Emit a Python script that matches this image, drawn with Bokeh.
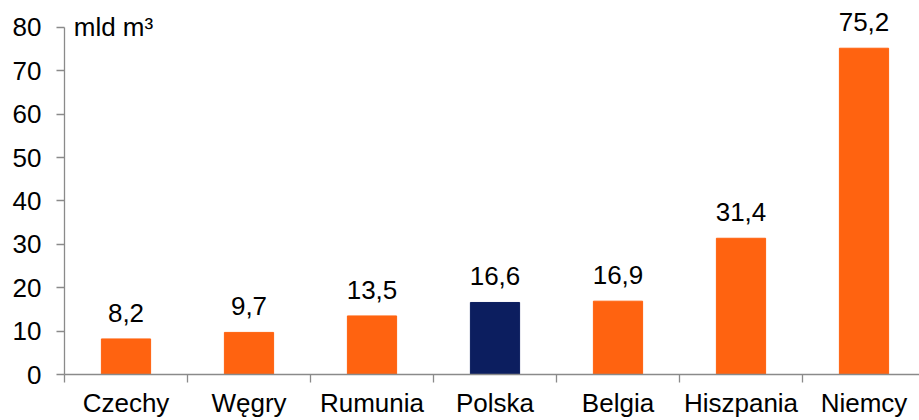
from bokeh.plotting import figure
from bokeh.models import ColumnDataSource, LabelSet, Label, FixedTicker, Range1d
from bokeh.core.properties import value
from bokeh.embed import file_html
from bokeh.resources import INLINE

categories = ["Czechy", "Węgry", "Rumunia", "Polska", "Belgia", "Hiszpania", "Niemcy"]
values = [8.2, 9.7, 13.5, 16.6, 16.9, 31.4, 75.2]
value_labels = ["8,2", "9,7", "13,5", "16,6", "16,9", "31,4", "75,2"]
highlight = "Polska"
y_ticks = [0, 10, 20, 30, 40, 50, 60, 70, 80]
unit_label = "mld m³"

ORANGE = "#FF6310"
NAVY = "#0C1E5F"
AXIS_GRAY = "#8A8A8A"
FONT = "Liberation Sans"
FSIZE = "26px"

xs = [i + 0.5 for i in range(len(categories))]
colors = [NAVY if c == highlight else ORANGE for c in categories]
source = ColumnDataSource(dict(x=xs, top=values, color=colors, vlab=value_labels))

p = figure(width=919, height=420, output_backend="svg", toolbar_location=None,
           x_range=Range1d(0, 855 / 123), y_range=Range1d(0, 86.2),
           min_border_left=64, min_border_right=0, min_border_top=0, min_border_bottom=44)
p.outline_line_color = None
p.xgrid.grid_line_color = None
p.ygrid.grid_line_color = None
p.background_fill_color = "white"
p.border_fill_color = "white"

p.vbar(x="x", top="top", width=0.4, bottom=0, color="color", source=source)

# y axis
p.yaxis.ticker = FixedTicker(ticks=y_ticks)
p.yaxis.bounds = (0, 80)
p.yaxis.axis_line_color = AXIS_GRAY
p.yaxis.axis_line_width = 1.3
p.yaxis.major_tick_line_color = AXIS_GRAY
p.yaxis.major_tick_line_width = 1.3
p.yaxis.major_tick_out = 8
p.yaxis.major_tick_in = 0
p.yaxis.minor_tick_line_color = None
p.yaxis.major_label_standoff = 15
p.yaxis.major_label_text_font = FONT
p.yaxis.major_label_text_font_size = FSIZE
p.yaxis.major_label_text_color = "black"

# x axis: ticks between categories, names at centers
p.xaxis.ticker = FixedTicker(ticks=xs, minor_ticks=list(range(len(categories) + 1)))
p.xaxis.major_label_overrides = {x: c for x, c in zip(xs, categories)}
p.xaxis.axis_line_color = AXIS_GRAY
p.xaxis.axis_line_width = 1.3
p.xaxis.minor_tick_line_color = AXIS_GRAY
p.xaxis.minor_tick_line_width = 1.3
p.xaxis.minor_tick_out = 8
p.xaxis.minor_tick_in = 0
p.xaxis.major_tick_line_color = None
p.xaxis.major_tick_out = 0
p.xaxis.major_tick_in = 0
p.xaxis.major_label_standoff = 5
p.xaxis.major_label_text_font = FONT
p.xaxis.major_label_text_font_size = FSIZE
p.xaxis.major_label_text_color = "black"

vl = LabelSet(x="x", y="top", text="vlab", source=source, y_offset=17,
              text_align="center", text_baseline="alphabetic",
              text_font=value(FONT), text_font_size=value(FSIZE), text_color="black")
p.add_layout(vl)

ul = Label(x=0.075, y=80, text=unit_label, text_baseline="middle", text_align="left",
           text_font=FONT, text_font_size=FSIZE, text_color="black")
p.add_layout(ul)

open("out.html", "w").write(file_html(p, INLINE))
